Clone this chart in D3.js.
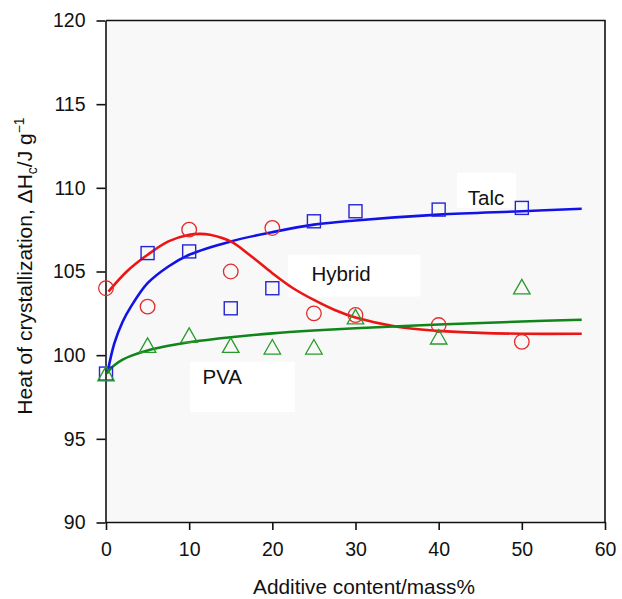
<!DOCTYPE html>
<html>
<head>
<meta charset="utf-8">
<script src="https://cdn.jsdelivr.net/npm/d3@7/dist/d3.min.js"></script>
<style>
  html, body { margin: 0; padding: 0; background: #fff; }
  svg { display: block; font-family: "Liberation Sans", Arial, Helvetica, sans-serif; }
</style>
</head>
<body>
<svg id="chart" width="622" height="599"></svg>
<script>
// Measured heat of crystallization (J/g) at each additive content (mass%)
const additive = [0, 5, 10, 15, 20, 25, 30, 40, 50];
const hybridValues = [104.0, 102.9, 107.5, 105.0, 107.6, 102.5, 102.4, 101.8, 100.8];
const talcValues   = [98.9, 106.1, 106.2, 102.8, 104.0, 108.0, 108.6, 108.7, 108.8];
const pvaValues    = [98.9, 100.6, 101.2, 100.6, 100.5, 100.5, 102.3, 101.1, 104.1];

// Fitted trend curves, sampled as [content, ΔHc]
const talcFit = [[0.2, 99.0], [1, 100.7], [2, 102.0], [3, 102.9], [5, 104.3], [7.5, 105.3],
  [10, 106.0], [15, 106.8], [20, 107.35], [25, 107.8], [30, 108.05], [40, 108.4],
  [50, 108.6], [57.2, 108.75]];
const hybridFit = [[0.3, 103.8], [2.5, 105.0], [5, 106.0], [7.5, 106.8], [10, 107.2],
  [11.3, 107.25], [12.5, 107.2], [15, 106.8], [17.5, 105.9], [20, 104.9], [22.5, 104.0],
  [25, 103.3], [27.5, 102.7], [30, 102.25], [35, 101.7], [40, 101.45], [45, 101.33],
  [50, 101.28], [57.2, 101.28]];
const pvaFit = [[0.1, 98.9], [0.5, 99.17], [1, 99.4], [2, 99.73], [3, 99.96], [5, 100.28],
  [7.5, 100.56], [10, 100.77], [15, 101.07], [20, 101.3], [25, 101.47], [30, 101.61],
  [40, 101.83], [50, 102.01], [57.2, 102.12]];

const xTicks = [0, 10, 20, 30, 40, 50, 60];
const yTicks = [90, 95, 100, 105, 110, 115, 120];

const svg = d3.select("#chart");
const plotLeft = 106, plotRight = 605, plotTop = 20.5, plotBottom = 522.5;

const x = d3.scaleLinear().domain([0, 60]).range([plotLeft, plotRight]);
const y = d3.scaleLinear().domain([90, 120]).range([plotBottom, plotTop]);

// plot background
svg.append("rect")
  .attr("x", plotLeft).attr("y", plotTop)
  .attr("width", plotRight - plotLeft).attr("height", plotBottom - plotTop)
  .attr("fill", "#f8f8f8");

// white patches behind the series names
const labelBoxes = [
  { x0: 42.2, x1: 49.3, y0: 110.9, y1: 108.8 },
  { x0: 21.9, x1: 37.8, y0: 106.0, y1: 103.5 },
  { x0: 10.1, x1: 22.7, y0: 99.6, y1: 96.6 }
];
svg.selectAll("rect.lblbox").data(labelBoxes).join("rect")
  .attr("class", "lblbox")
  .attr("x", d => x(d.x0)).attr("y", d => y(d.y0))
  .attr("width", d => x(d.x1) - x(d.x0)).attr("height", d => y(d.y1) - y(d.y0))
  .attr("fill", "#ffffff");

// axes
const axisColor = "#111";
const xAxis = svg.append("g")
  .attr("transform", `translate(0,${plotBottom - 0.5})`)
  .call(d3.axisBottom(x).tickValues(xTicks).tickSize(8).tickPadding(12).tickSizeOuter(0));
const yAxis = svg.append("g")
  .attr("transform", `translate(${plotLeft - 0.5},0)`)
  .call(d3.axisLeft(y).tickValues(yTicks).tickSize(9).tickPadding(11).tickSizeOuter(0));
[xAxis, yAxis].forEach(g => {
  g.selectAll("path, line").attr("stroke", axisColor).attr("stroke-width", 1.6);
  g.selectAll("text").attr("fill", axisColor)
    .style("font-size", "19.5px")
    .style("font-family", "'Liberation Sans', Arial, Helvetica, sans-serif");
});

// frame on top and right
svg.append("path")
  .attr("d", `M${plotLeft},${plotTop}H${plotRight}V${plotBottom}`)
  .attr("fill", "none").attr("stroke", axisColor).attr("stroke-width", 1.6);

// fitted curves
const line = d3.line()
  .x(d => x(d[0])).y(d => y(d[1]))
  .curve(d3.curveCatmullRom.alpha(0.5));
const curves = [
  { data: talcFit, color: "#1212e8" },
  { data: hybridFit, color: "#ec1515" },
  { data: pvaFit, color: "#10851a" }
];
svg.selectAll("path.fit").data(curves).join("path")
  .attr("class", "fit")
  .attr("d", d => line(d.data))
  .attr("fill", "none")
  .attr("stroke", d => d.color)
  .attr("stroke-width", 2.6);

// markers
const marks = svg.append("g");
marks.selectAll("circle.hyb").data(additive).join("circle")
  .attr("class", "hyb")
  .attr("cx", (d) => x(d))
  .attr("cy", (d, i) => y(hybridValues[i]))
  .attr("r", 7.3)
  .attr("fill", "none").attr("stroke", "#e42b2b").attr("stroke-width", 1.3);

const sq = 13;
marks.selectAll("rect.talc").data(additive).join("rect")
  .attr("class", "talc")
  .attr("x", d => x(d) - sq / 2)
  .attr("y", (d, i) => y(talcValues[i]) - sq / 2)
  .attr("width", sq).attr("height", sq)
  .attr("fill", "none").attr("stroke", "#2424d6").attr("stroke-width", 1.4);

const tw = 16.5, th = 14.5;
marks.selectAll("path.pva").data(additive).join("path")
  .attr("class", "pva")
  .attr("d", (d, i) => {
    const cx = x(d), cy = y(pvaValues[i]);
    return `M${cx},${cy - th / 2}L${cx + tw / 2},${cy + th / 2}L${cx - tw / 2},${cy + th / 2}Z`;
  })
  .attr("fill", "none").attr("stroke", "#279a2a").attr("stroke-width", 1.3);

// series names
const seriesLabels = [
  { text: "Talc", cx: 43.5, cy: 109.0 },
  { text: "Hybrid", cx: 24.7, cy: 104.45 },
  { text: "PVA", cx: 11.6, cy: 98.25 }
];
svg.selectAll("text.series").data(seriesLabels).join("text")
  .attr("class", "series")
  .attr("x", d => x(d.cx)).attr("y", d => y(d.cy))
  .attr("fill", "#111")
  .style("font-size", "20.5px")
  .text(d => d.text);

// axis titles
svg.append("text")
  .attr("x", 364).attr("y", 594)
  .attr("text-anchor", "middle")
  .attr("fill", "#111")
  .style("font-size", "20.8px")
  .text("Additive content/mass%");

const yt = svg.append("text")
  .attr("transform", "translate(32,266) rotate(-90)")
  .attr("text-anchor", "middle")
  .attr("fill", "#111")
  .style("font-size", "21px");
yt.append("tspan").text("Heat of crystallization, ΔH");
yt.append("tspan").attr("dy", 5).style("font-size", "14px").text("c");
yt.append("tspan").attr("dy", -5).text("/J g");
yt.append("tspan").attr("dy", -8).style("font-size", "14px").text("−1");
</script>
</body>
</html>
